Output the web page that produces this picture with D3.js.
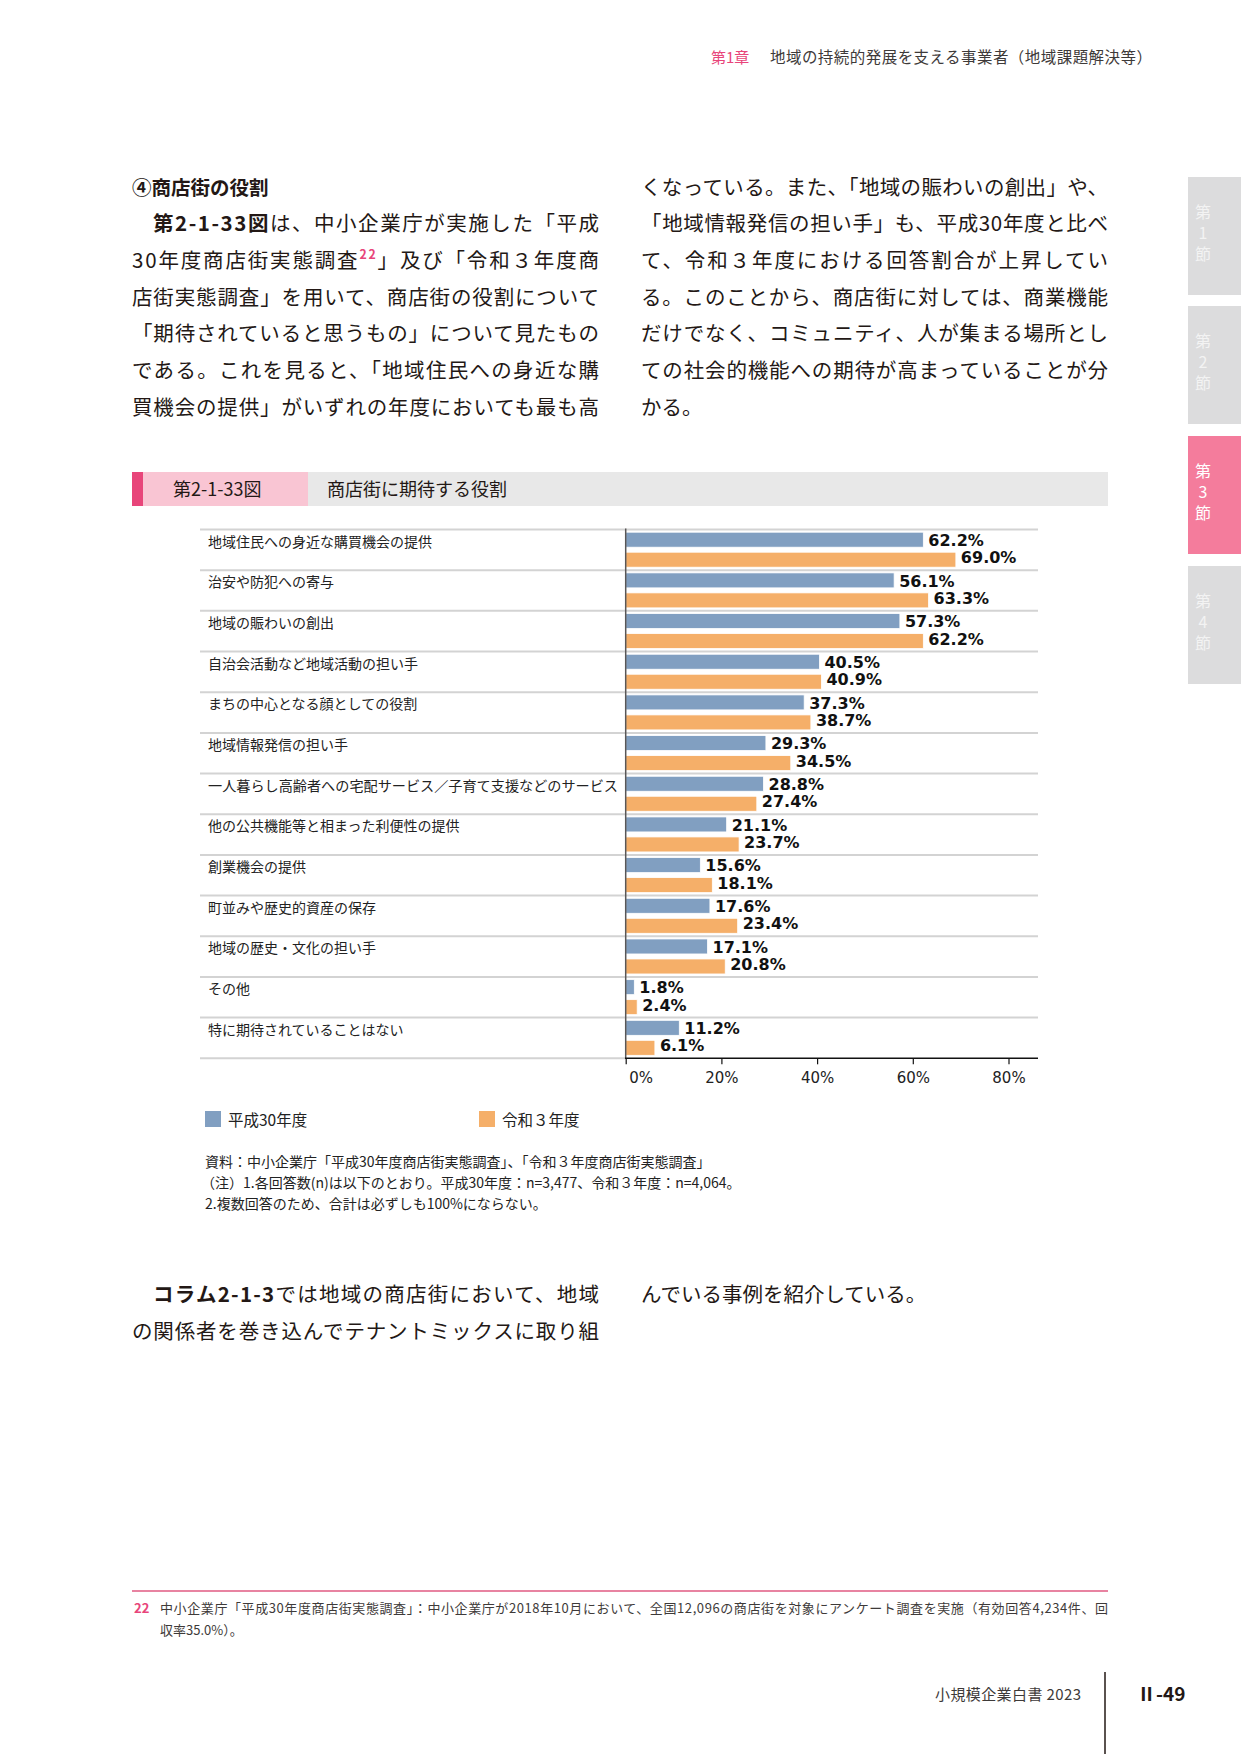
<!DOCTYPE html>
<html lang="ja">
<head>
<meta charset="utf-8">
<script src="https://cdn.jsdelivr.net/npm/d3@7"></script>
<style>
  body { margin: 0; background: #fff; }
  svg { display: block; }
  .jp { font-family: "Noto Sans CJK JP", "Noto Sans", sans-serif; }
</style>
</head>
<body>
<div id="page"></div>
<script>
const categories = [
  '地域住民への身近な購買機会の提供',
  '治安や防犯への寄与',
  '地域の賑わいの創出',
  '自治会活動など地域活動の担い手',
  'まちの中心となる顔としての役割',
  '地域情報発信の担い手',
  '一人暮らし高齢者への宅配サービス／子育て支援などのサービス',
  '他の公共機能等と相まった利便性の提供',
  '創業機会の提供',
  '町並みや歴史的資産の保存',
  '地域の歴史・文化の担い手',
  'その他',
  '特に期待されていることはない'
]
const h30 = [62.2, 56.1, 57.3, 40.5, 37.3, 29.3, 28.8, 21.1, 15.6, 17.6, 17.1, 1.8, 11.2]
const r3 = [69.0, 63.3, 62.2, 40.9, 38.7, 34.5, 27.4, 23.7, 18.1, 23.4, 20.8, 2.4, 6.1]
const seriesNames = ['平成30年度', '令和３年度']
const tickValues = [0, 20, 40, 60, 80]

const W = 1241
const H = 1754
const blue = '#819fc1'
const orange = '#f5af69'
const pink = '#e8457a'

const svg = d3.select('#page').append('svg')
  .attr('width', W)
  .attr('height', H)
  .attr('viewBox', `0 0 ${W} ${H}`)

svg.append('rect').attr('width', W).attr('height', H).attr('fill', '#fff')

// text line helper: parts = [[text, {bold, color, sup}], ...]
function textLine (x, y, parts, size, len, extra = {}) {
  const t = svg.append('text')
    .attr('class', 'jp')
    .attr('x', x)
    .attr('y', y)
    .attr('font-size', size)
    .attr('fill', extra.color || '#231815')
  if (len) t.attr('textLength', len).attr('lengthAdjust', 'spacing')
  parts.forEach(p => {
    const s = typeof p === 'string' ? { t: p } : p
    const ts = t.append('tspan').text(s.t)
    if (s.bold) ts.attr('font-weight', 'bold')
    if (s.color) ts.attr('fill', s.color)
    if (s.sup) ts.attr('font-size', size * 0.6).attr('dy', -size * 0.45).attr('font-weight', 'bold')
    if (s.unsup) ts.attr('dy', size * 0.45)
  })
  return t
}

// header
textLine(711, 63, [{ t: '第1章', color: pink }], 15)
textLine(770, 63, ['地域の持続的発展を支える事業者（地域課題解決等）'], 15.5, 382, { color: '#3e3a39' })

// section tabs
const tabs = [
  { y: 177, n: '1', on: false },
  { y: 306, n: '2', on: false },
  { y: 436, n: '3', on: true },
  { y: 566, n: '4', on: false }
]
tabs.forEach(tb => {
  svg.append('rect')
    .attr('x', 1188).attr('y', tb.y).attr('width', 53).attr('height', 118)
    .attr('fill', tb.on ? '#f47c9c' : '#dcdcdd')
  ;['第', tb.n, '節'].forEach((c, i) => {
    svg.append('text').attr('class', 'jp')
      .attr('x', 1203).attr('y', tb.y + 41 + i * 21)
      .attr('text-anchor', 'middle')
      .attr('font-size', 16)
      .attr('fill', tb.on ? '#fff' : '#f3f3f3')
      .text(c)
  })
})

// body text
const lh = 36.7
const by = 194.5
const colL = 132
const colR = 641
const colW = 467
const bodySize = 20.5

textLine(colL, by, [{ t: '④商店街の役割', bold: true }], 19.5)
textLine(colL + 21, by + lh, [{ t: '第2-1-33図', bold: true }, 'は、中小企業庁が実施した「平成'], bodySize, colW - 21)
textLine(colL, by + lh * 2, ['30年度商店街実態調査', { t: '22', sup: true, color: pink }, { t: '」及び「令和３年度商', unsup: true }], bodySize, colW)
textLine(colL, by + lh * 3, ['店街実態調査」を用いて、商店街の役割について'], bodySize, colW)
textLine(colL, by + lh * 4, ['「期待されていると思うもの」について見たもの'], bodySize, colW)
textLine(colL, by + lh * 5, ['である。これを見ると、「地域住民への身近な購'], bodySize, colW)
textLine(colL, by + lh * 6, ['買機会の提供」がいずれの年度においても最も高'], bodySize, colW)

const rightLines = [
  'くなっている。また、「地域の賑わいの創出」や、',
  '「地域情報発信の担い手」も、平成30年度と比べ',
  'て、令和３年度における回答割合が上昇してい',
  'る。このことから、商店街に対しては、商業機能',
  'だけでなく、コミュニティ、人が集まる場所とし',
  'ての社会的機能への期待が高まっていることが分'
]
rightLines.forEach((l, i) => textLine(colR, by + lh * i, [l], bodySize, colW))
textLine(colR, by + lh * 6, ['かる。'], bodySize)

// figure title bar
svg.append('rect').attr('x', 132).attr('y', 472).attr('width', 976).attr('height', 34).attr('fill', '#e8e8e8')
svg.append('rect').attr('x', 132).attr('y', 472).attr('width', 176).attr('height', 34).attr('fill', '#f9c5d3')
svg.append('rect').attr('x', 132).attr('y', 472).attr('width', 11).attr('height', 34).attr('fill', pink)
textLine(173, 496, ['第2-1-33図'], 18, null, { color: '#231815' })
textLine(327, 496, ['商店街に期待する役割'], 18, null, { color: '#231815' })

// chart
const x0 = 625.7
const x = d3.scaleLinear().domain([0, 80]).range([x0, x0 + 80 * 4.785])
const chartLeft = 200
const chartRight = 1038
const y = d3.scaleBand().domain(categories).range([529.5, 1058.3])

const chart = svg.append('g')

// row separators
chart.selectAll('line.sep')
  .data(categories)
  .join('line')
  .attr('class', 'sep')
  .attr('x1', chartLeft).attr('x2', chartRight)
  .attr('y1', d => y(d)).attr('y2', d => y(d))
  .attr('stroke', '#d3d3d3').attr('stroke-width', 2)

chart.append('line')
  .attr('x1', chartLeft).attr('x2', x0)
  .attr('y1', y.range()[1]).attr('y2', y.range()[1])
  .attr('stroke', '#d3d3d3').attr('stroke-width', 2)

// category labels
chart.selectAll('text.cat')
  .data(categories)
  .join('text')
  .attr('class', 'cat jp')
  .attr('x', 208)
  .attr('y', d => y(d) + 17)
  .attr('font-size', 14)
  .attr('fill', '#222')
  .attr('textLength', d => d.length > 25 ? 410 : null)
  .attr('lengthAdjust', 'spacingAndGlyphs')
  .text(d => d)

const series = [
  { name: seriesNames[0], values: h30, color: blue, off: 2.7, base: 16.4 },
  { name: seriesNames[1], values: r3, color: orange, off: 22.7, base: 33.8 }
]

series.forEach(s => {
  const g = chart.append('g')
  g.selectAll('rect')
    .data(s.values)
    .join('rect')
    .attr('x', x(0))
    .attr('y', (d, i) => y(categories[i]) + s.off)
    .attr('width', d => x(d) - x(0))
    .attr('height', 15)
    .attr('fill', s.color)
    .attr('stroke', '#fff')
    .attr('stroke-width', 0.8)
  g.selectAll('text')
    .data(s.values)
    .join('text')
    .attr('x', d => x(d) + 5)
    .attr('y', (d, i) => y(categories[i]) + s.base)
    .attr('font-family', 'DejaVu Sans')
    .attr('font-weight', 'bold')
    .attr('font-size', 16)
    .attr('fill', '#111')
    .text(d => d.toFixed(1) + '%')
})

// vertical axis line
chart.append('line')
  .attr('x1', x0).attr('x2', x0)
  .attr('y1', 528.5).attr('y2', y.range()[1])
  .attr('stroke', '#595757').attr('stroke-width', 1.5)

// bottom axis
const axis = chart.append('g')
  .attr('transform', `translate(0, ${y.range()[1]})`)
  .call(d3.axisBottom(x).tickValues(tickValues).tickFormat(d => d + '%').tickSize(6).tickSizeOuter(0))
axis.select('.domain').remove()
axis.selectAll('.tick line').attr('stroke', '#111').attr('stroke-width', 1.2)
axis.selectAll('.tick text')
  .attr('font-family', 'DejaVu Sans')
  .attr('font-size', 15)
  .attr('fill', '#222')
  .attr('dy', null)
  .attr('y', 25)
axis.selectAll('.tick text').filter(d => d === 0).attr('text-anchor', 'start').attr('x', 3)
chart.append('line')
  .attr('x1', x0 - 0.75).attr('x2', chartRight)
  .attr('y1', y.range()[1]).attr('y2', y.range()[1])
  .attr('stroke', '#111').attr('stroke-width', 1.5)

// legend
const legend = [
  { name: seriesNames[0], color: blue, x: 205 },
  { name: seriesNames[1], color: orange, x: 479 }
]
legend.forEach(l => {
  svg.append('rect').attr('x', l.x).attr('y', 1111).attr('width', 16).attr('height', 16).attr('fill', l.color)
  textLine(l.x + 23, 1126, [l.name], 15.5, null, { color: '#222' })
})

// notes
textLine(205, 1167, ['資料：中小企業庁「平成30年度商店街実態調査」、「令和３年度商店街実態調査」'], 14, null, { color: '#222' })
textLine(201, 1188, ['（注）1.各回答数(n)は以下のとおり。平成30年度：n=3,477、令和３年度：n=4,064。'], 14, null, { color: '#222' })
textLine(205, 1209, ['2.複数回答のため、合計は必ずしも100%にならない。'], 14, null, { color: '#222' })

// lower body text
textLine(colL + 21, 1302, [{ t: 'コラム2-1-3', bold: true }, 'では地域の商店街において、地域'], bodySize, colW - 21)
textLine(colL, 1339, ['の関係者を巻き込んでテナントミックスに取り組'], bodySize, colW)
textLine(colR, 1302, ['んでいる事例を紹介している。'], bodySize)

// footnote
svg.append('line').attr('x1', 132).attr('x2', 1108).attr('y1', 1591).attr('y2', 1591)
  .attr('stroke', '#e05a82').attr('stroke-width', 1.5)
textLine(134, 1613, [{ t: '22', bold: true, color: pink }], 13)
textLine(160, 1613, ['中小企業庁「平成30年度商店街実態調査」：中小企業庁が2018年10月において、全国12,096の商店街を対象にアンケート調査を実施（有効回答4,234件、回'], 13, 948, { color: '#3e3a39' })
textLine(160, 1635, ['収率35.0%）。'], 13, null, { color: '#3e3a39' })

// footer
textLine(935, 1700, ['小規模企業白書 2023'], 15, 146, { color: '#3e3a39' })
svg.append('line').attr('x1', 1105).attr('x2', 1105).attr('y1', 1672).attr('y2', 1754)
  .attr('stroke', '#231815').attr('stroke-width', 1.5)
textLine(1137, 1701, [{ t: 'Ⅱ-49', bold: true }], 19, null, { color: '#231815' })
</script>
</body>
</html>
